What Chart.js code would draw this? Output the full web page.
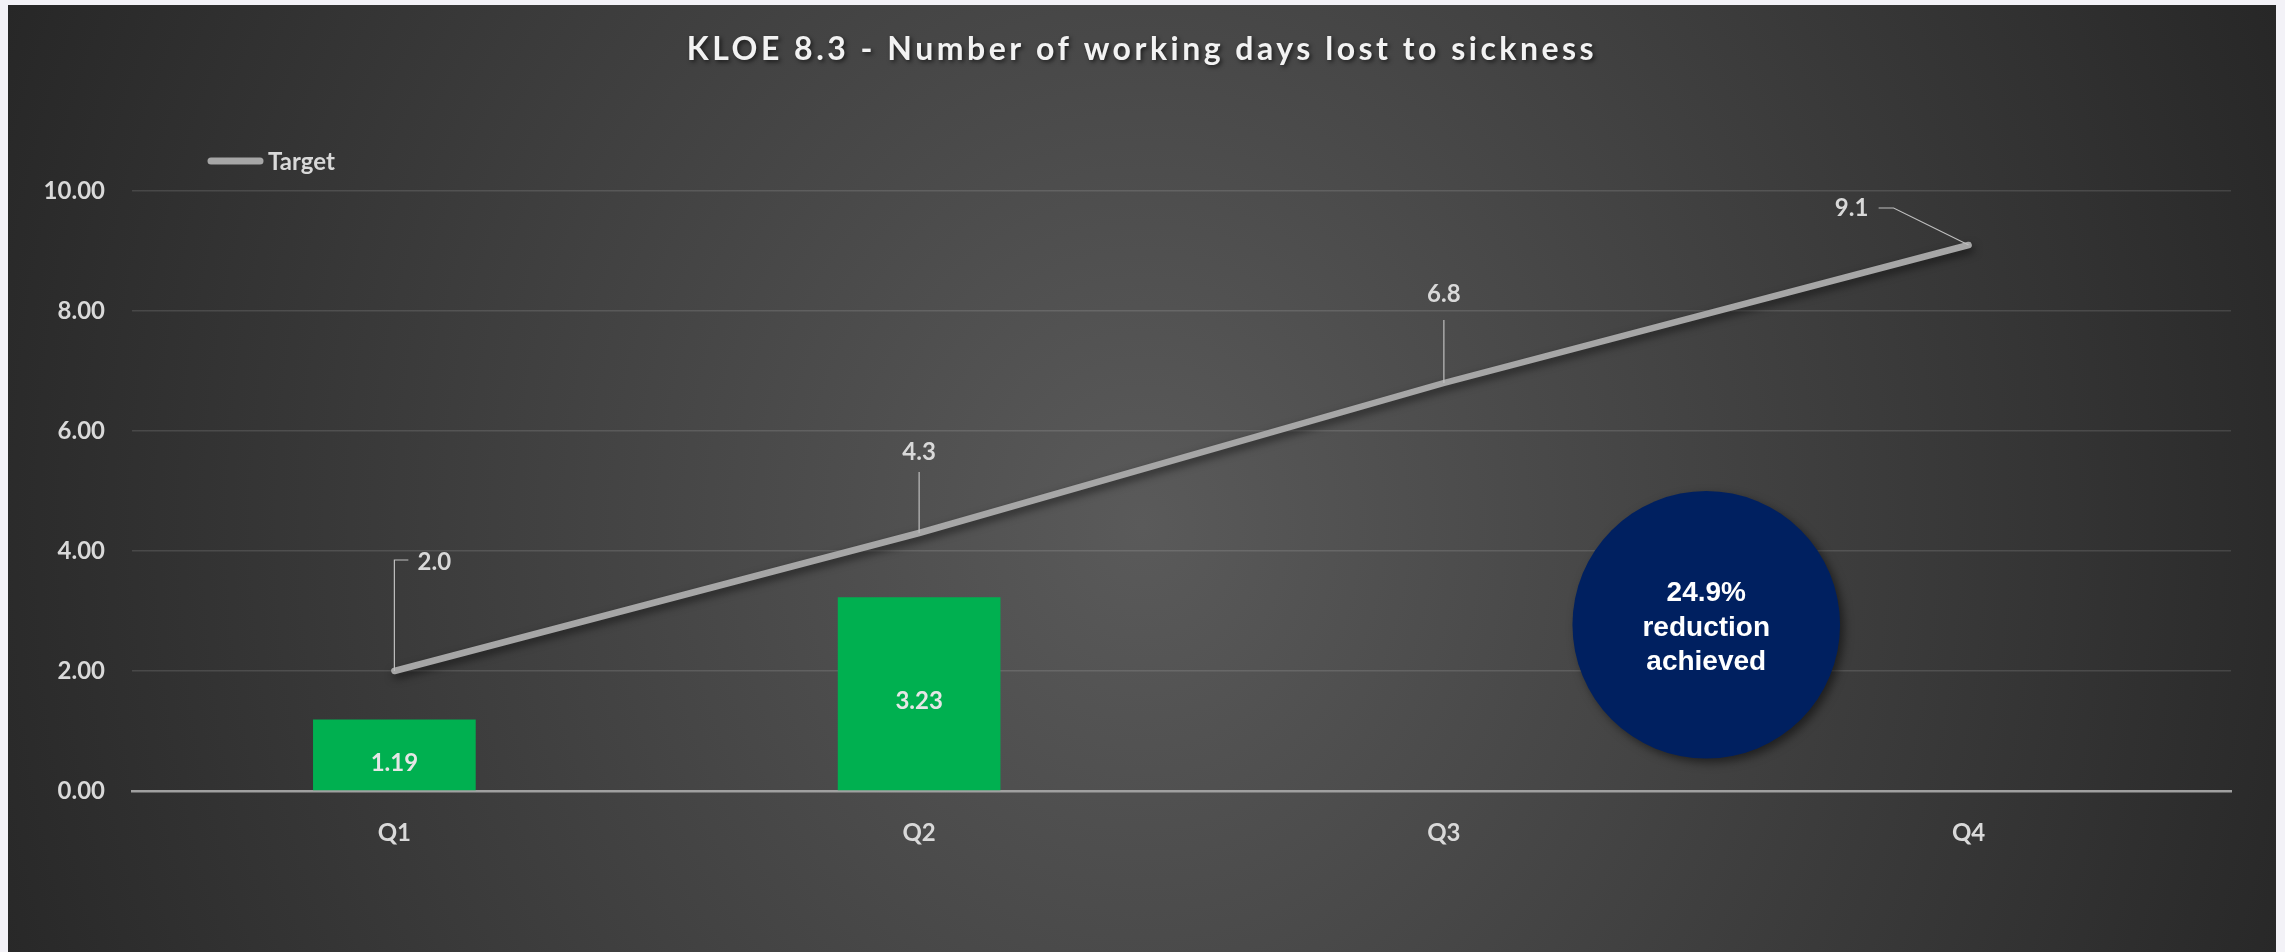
<!DOCTYPE html>
<html>
<head>
<meta charset="utf-8">
<title>KLOE 8.3 - Number of working days lost to sickness</title>
<script src="https://cdn.jsdelivr.net/npm/chart.js@4.4.1/dist/chart.umd.min.js"></script>
<style>
  html, body { margin: 0; padding: 0; background: #f3f2f7; }
  #wrap {
    position: absolute; left: 8px; top: 5px; width: 2268px; height: 947px;
    background: radial-gradient(ellipse 55% 150% at 50% 55%, #5a5a5a 0%, #262626 100%);
  }
</style>
</head>
<body>
<div id="wrap"><canvas id="chart"></canvas></div>
<script>
const quarters = ['Q1', 'Q2', 'Q3', 'Q4'];
const actualDays = [1.19, 3.23, null, null];
const targetDays = [2.0, 4.3, 6.8, 9.1];
const reductionText = ['24.9%', 'reduction', 'achieved'];
const titleText = 'KLOE 8.3 - Number of working days lost to sickness';

const FONT = 'Lato, "Open Sans", sans-serif';
const GREY_TEXT = '#d9d9d9';
const TARGET_GREY = '#a6a6a6';

// label position relative to each target point, and the leader drawn to it
const targetLabelLayout = [
	{ dx: 40, dy: -109, leader: [[0, 0], [0, -111], [14, -111]] },
	{ dx: 0, dy: -81, leader: [[0, 0], [0, -61]] },
	{ dx: 0, dy: -89, leader: [[0, 0], [0, -63]] },
	{ dx: -117, dy: -37, leader: [[0, 0], [-75, -37], [-90, -37]] }
];

// soft shadow under the target line
const lineShadow = {
	id: 'lineShadow',
	beforeDatasetDraw(chart, args) {
		if (args.meta.type !== 'line') return;
		const ctx = chart.ctx;
		ctx.save();
		ctx.shadowColor = 'rgba(0,0,0,0.55)';
		ctx.shadowBlur = 8;
		ctx.shadowOffsetX = 2;
		ctx.shadowOffsetY = 4;
	},
	afterDatasetDraw(chart, args) {
		if (args.meta.type !== 'line') return;
		chart.ctx.restore();
	}
};

const valueLabels = {
	id: 'valueLabels',
	afterDatasetsDraw(chart) {
		const ctx = chart.ctx;
		ctx.save();
		ctx.font = 'bold 24px ' + FONT;
		ctx.textAlign = 'center';
		ctx.textBaseline = 'middle';

		// bar values, centred in the bar
		const bars = chart.getDatasetMeta(1);
		bars.data.forEach((bar, i) => {
			if (actualDays[i] == null) return;
			ctx.fillStyle = '#e6e6e6';
			ctx.fillText(actualDays[i].toFixed(2), bar.x, (bar.y + bar.base) / 2 + 8);
		});

		// target values with leader lines
		const line = chart.getDatasetMeta(0);
		line.data.forEach((pt, i) => {
			const lay = targetLabelLayout[i];
			ctx.strokeStyle = '#bfbfbf';
			ctx.lineWidth = 1.2;
			ctx.beginPath();
			lay.leader.forEach(([lx, ly], j) => {
				if (j === 0) ctx.moveTo(pt.x + lx, pt.y + ly);
				else ctx.lineTo(pt.x + lx, pt.y + ly);
			});
			ctx.stroke();
			ctx.fillStyle = GREY_TEXT;
			ctx.fillText(targetDays[i].toFixed(1), pt.x + lay.dx, pt.y + lay.dy);
		});
		ctx.restore();

		// reduction bubble between Q3 and Q4
		const x = chart.scales.x, y = chart.scales.y;
		const cx = x.getPixelForValue(2.5);
		const cy = y.getPixelForValue(2.77);
		const r = y.getPixelForValue(0) - y.getPixelForValue(2.23);
		ctx.save();
		ctx.shadowColor = 'rgba(0,0,0,0.5)';
		ctx.shadowBlur = 10;
		ctx.shadowOffsetX = 4;
		ctx.shadowOffsetY = 4;
		ctx.fillStyle = '#002060';
		ctx.beginPath();
		ctx.arc(cx, cy, r, 0, Math.PI * 2);
		ctx.fill();
		ctx.restore();

		ctx.save();
		ctx.font = 'bold 28px "Liberation Sans", Arial, sans-serif';
		ctx.fillStyle = '#ffffff';
		ctx.textAlign = 'center';
		ctx.textBaseline = 'middle';
		reductionText.forEach((t, i) => {
			ctx.fillText(t, cx, cy + 3 + (i - 1) * 34.5);
		});
		ctx.restore();
	}
};

// title and the legend key for the target line
const header = {
	id: 'header',
	afterDraw(chart) {
		const ctx = chart.ctx;
		ctx.save();
		ctx.font = 'bold 32px ' + FONT;
		ctx.letterSpacing = '3.5px';
		ctx.textAlign = 'center';
		ctx.textBaseline = 'middle';
		ctx.shadowColor = 'rgba(0,0,0,0.6)';
		ctx.shadowBlur = 4;
		ctx.shadowOffsetX = 2;
		ctx.shadowOffsetY = 2;
		ctx.fillStyle = '#f2f2f2';
		ctx.fillText(titleText, chart.width / 2, 45);
		ctx.restore();

		ctx.save();
		ctx.strokeStyle = TARGET_GREY;
		ctx.lineWidth = 7;
		ctx.lineCap = 'round';
		ctx.beginPath();
		ctx.moveTo(203, 156);
		ctx.lineTo(252, 156);
		ctx.stroke();
		ctx.font = 'bold 24px ' + FONT;
		ctx.fillStyle = GREY_TEXT;
		ctx.textBaseline = 'middle';
		ctx.fillText(chart.data.datasets[0].label, 260, 157);
		ctx.restore();
	}
};

new Chart(document.getElementById('chart'), {
	type: 'bar',
	data: {
		labels: quarters,
		datasets: [{
			type: 'line',
			label: 'Target',
			data: targetDays,
			borderColor: TARGET_GREY,
			borderWidth: 6.5,
			borderCapStyle: 'round',
			pointRadius: 0,
			tension: 0,
			order: 0
		}, {
			type: 'bar',
			label: 'Actual',
			data: actualDays,
			backgroundColor: '#00b050',
			barPercentage: 0.31,
			categoryPercentage: 1,
			order: 1
		}]
	},
	options: {
		responsive: true,
		maintainAspectRatio: false,
		animation: false,
		layout: { padding: { top: 186, right: 45, left: 0, bottom: 0 } },
		plugins: {
			legend: { display: false },
			title: { display: false },
			tooltip: { enabled: false }
		},
		scales: {
			x: {
				grid: { display: false, drawTicks: false },
				border: { color: '#a0a0a0', width: 2.5 },
				ticks: { color: GREY_TEXT, font: { family: FONT, size: 24, weight: 'bold' }, padding: 28 },
				afterFit(scale) { scale.height = 161; }
			},
			y: {
				min: 0,
				max: 10,
				ticks: {
					stepSize: 2,
					color: GREY_TEXT,
					font: { family: FONT, size: 24, weight: 'bold' },
					padding: 27,
					callback: v => v.toFixed(2)
				},
				grid: { color: 'rgba(255,255,255,0.12)', lineWidth: 1.5, drawTicks: false },
				border: { display: false },
				afterFit(scale) { scale.width = 124; }
			}
		}
	},
	plugins: [lineShadow, valueLabels, header]
});
</script>
</body>
</html>
